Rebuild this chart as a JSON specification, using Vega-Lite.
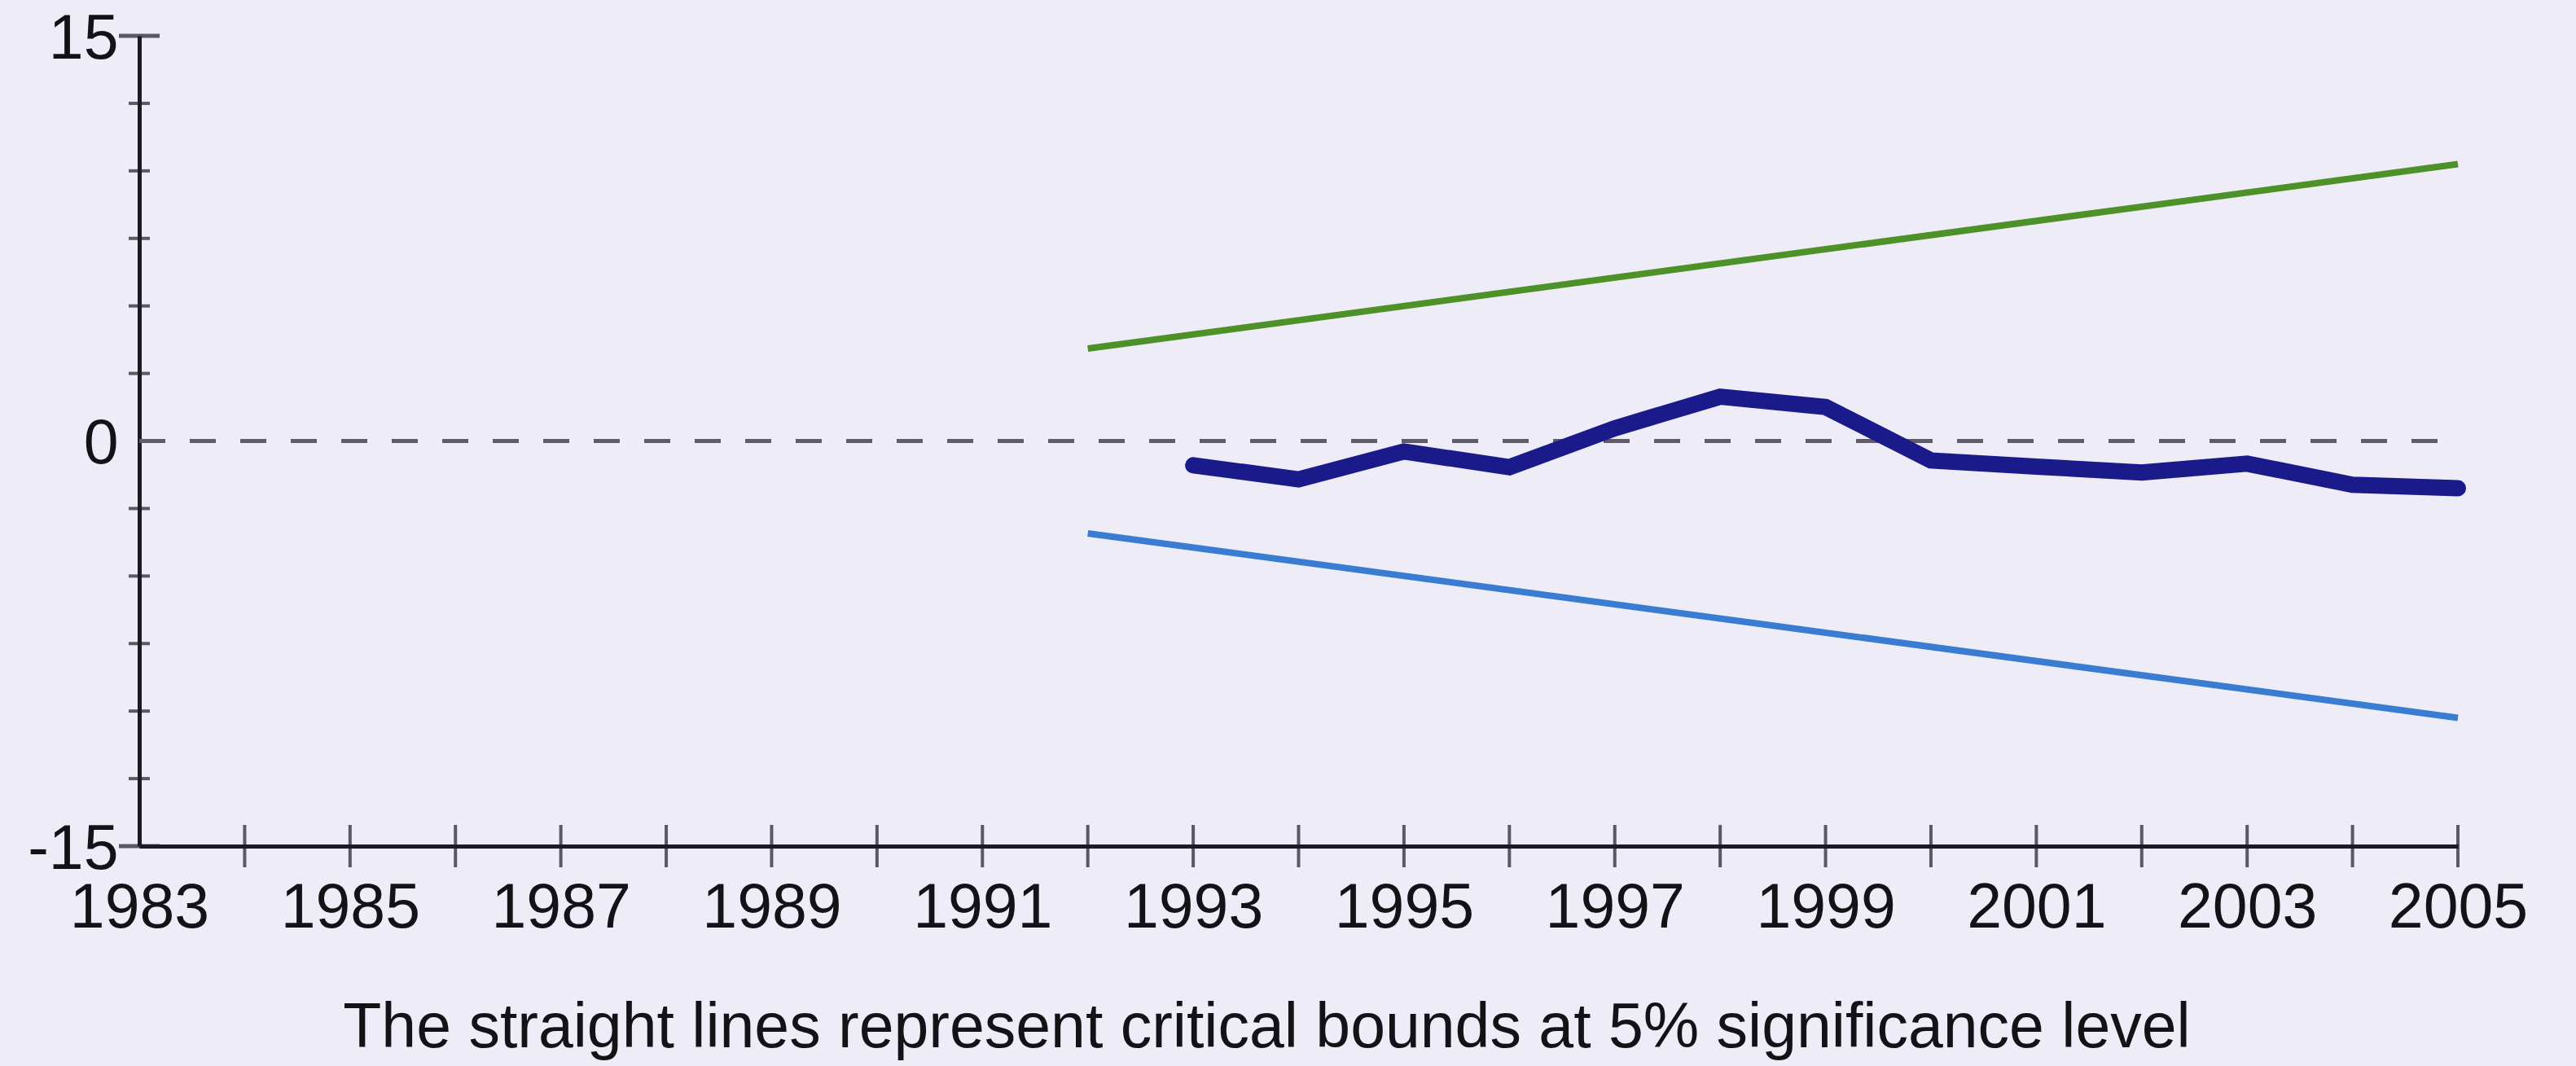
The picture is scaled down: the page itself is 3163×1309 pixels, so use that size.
{
  "$schema": "https://vega.github.io/schema/vega-lite/v6.json",
  "width": 2847,
  "height": 995,
  "autosize": {"type": "none"},
  "padding": {"left": 171, "top": 44, "right": 145, "bottom": 270},
  "background": "#eeecf7",
  "config": {
    "view": {"stroke": null},
    "font": "Liberation Sans"
  },
  "datasets": {
    "cusum": [
      {"year": 1993, "value": -0.90},
      {"year": 1994, "value": -1.42},
      {"year": 1995, "value": -0.39},
      {"year": 1996, "value": -0.97},
      {"year": 1997, "value": 0.47},
      {"year": 1998, "value": 1.64},
      {"year": 1999, "value": 1.26},
      {"year": 2000, "value": -0.72},
      {"year": 2001, "value": -0.95},
      {"year": 2002, "value": -1.17},
      {"year": 2003, "value": -0.84},
      {"year": 2004, "value": -1.62},
      {"year": 2005, "value": -1.75}
    ],
    "bounds": [
      {"year": 1992, "value": 3.42, "series": "upper"},
      {"year": 2005, "value": 10.25, "series": "upper"},
      {"year": 1992, "value": -3.42, "series": "lower"},
      {"year": 2005, "value": -10.25, "series": "lower"}
    ],
    "zero": [
      {"year": 1983, "value": 0},
      {"year": 2005, "value": 0}
    ],
    "xticks": [
      {"year": 1984}, {"year": 1985}, {"year": 1986}, {"year": 1987}, {"year": 1988},
      {"year": 1989}, {"year": 1990}, {"year": 1991}, {"year": 1992}, {"year": 1993},
      {"year": 1994}, {"year": 1995}, {"year": 1996}, {"year": 1997}, {"year": 1998},
      {"year": 1999}, {"year": 2000}, {"year": 2001}, {"year": 2002}, {"year": 2003},
      {"year": 2004}, {"year": 2005}
    ],
    "yminor": [
      {"value": -12.5}, {"value": -10}, {"value": -7.5}, {"value": -5}, {"value": -2.5},
      {"value": 2.5}, {"value": 5}, {"value": 7.5}, {"value": 10}, {"value": 12.5}
    ],
    "ymajor": [
      {"value": -15}, {"value": 15}
    ]
  },
  "layer": [
    {
      "data": {"name": "zero"},
      "mark": {"type": "line", "color": "#625c69", "strokeWidth": 5, "strokeDash": [32, 30]},
      "encoding": {
        "x": {
          "field": "year",
          "type": "quantitative",
          "scale": {"domain": [1983, 2005], "nice": false, "zero": false},
          "axis": {
            "values": [1983, 1985, 1987, 1989, 1991, 1993, 1995, 1997, 1999, 2001, 2003, 2005],
            "format": "d",
            "grid": false,
            "ticks": false,
            "domain": true,
            "domainColor": "#1e1a24",
            "domainWidth": 5,
            "labelFont": "Liberation Sans",
            "labelFontSize": 77,
            "labelColor": "#141217",
            "labelPadding": 38,
            "labelFlush": false,
            "labelBound": false,
            "labelOverlap": false,
            "title": "The straight lines represent critical bounds at 5% significance level",
            "titleFont": "Liberation Sans",
            "titleFontSize": 77,
            "titleFontWeight": "normal",
            "titleColor": "#141217",
            "titleX": 1384,
            "titleY": 246,
            "titleAlign": "center",
            "titleBaseline": "alphabetic"
          }
        },
        "y": {
          "field": "value",
          "type": "quantitative",
          "scale": {"domain": [-15, 15], "nice": false, "zero": false},
          "axis": {
            "values": [-15, 0, 15],
            "labelExpr": "datum.value < 0 ? '-' + format(-datum.value, 'd') : format(datum.value, 'd')",
            "grid": false,
            "ticks": false,
            "domain": true,
            "domainColor": "#1e1a24",
            "domainWidth": 5,
            "labelFont": "Liberation Sans",
            "labelFontSize": 77,
            "labelColor": "#141217",
            "labelPadding": 26,
            "labelOffset": 4,
            "labelOverlap": false,
            "title": null
          }
        }
      }
    },
    {
      "data": {"name": "bounds"},
      "mark": {"type": "line", "strokeWidth": 8},
      "encoding": {
        "x": {"field": "year", "type": "quantitative"},
        "y": {"field": "value", "type": "quantitative"},
        "color": {"field": "series", "type": "nominal", "scale": {"domain": ["upper", "lower"], "range": ["#4f9129", "#3a7cd2"]}, "legend": null}
      }
    },
    {
      "data": {"name": "cusum"},
      "mark": {"type": "line", "color": "#1a1a8a", "strokeWidth": 20, "strokeCap": "round"},
      "encoding": {
        "x": {"field": "year", "type": "quantitative"},
        "y": {"field": "value", "type": "quantitative"}
      }
    },
    {
      "data": {"name": "xticks"},
      "mark": {"type": "tick", "orient": "vertical", "size": 52, "thickness": 4, "color": "#1e1a24"},
      "encoding": {
        "x": {"field": "year", "type": "quantitative"},
        "y": {"datum": -15, "type": "quantitative"}
      }
    },
    {
      "data": {"name": "yminor"},
      "mark": {"type": "tick", "orient": "horizontal", "size": 26, "thickness": 4, "color": "#1e1a24"},
      "encoding": {
        "x": {"datum": 1983, "type": "quantitative"},
        "y": {"field": "value", "type": "quantitative"}
      }
    },
    {
      "data": {"name": "ymajor"},
      "mark": {"type": "tick", "orient": "horizontal", "size": 50, "thickness": 5, "color": "#1e1a24"},
      "encoding": {
        "x": {"datum": 1983, "type": "quantitative"},
        "y": {"field": "value", "type": "quantitative"}
      }
    }
  ]
}
